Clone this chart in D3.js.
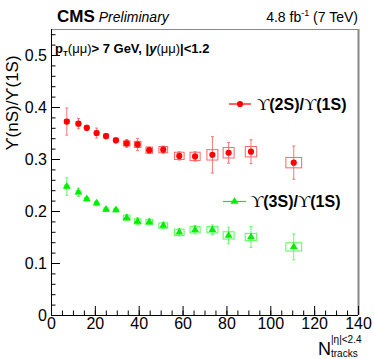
<!DOCTYPE html>
<html><head><meta charset="utf-8">
<script src="https://cdn.jsdelivr.net/npm/d3@7"></script>
<style>body{margin:0;background:#fff}svg{display:block;font-family:"Liberation Sans",Arial,sans-serif}</style>
</head><body><svg id="c" width="374" height="359"></svg>
<script>
const nTracks = [7.2,12.5,16.3,20.8,25.1,29.6,34.5,39.5,44.8,51.2,58.5,65.7,73.6,81.0,91.2,110.7];
const boxHalfW = [1,1,1,1,1,1,1.5,1.5,1.5,2,2.2,2.3,2.5,2.5,2.6,3.6];
const r21 = [0.372,0.368,0.360,0.350,0.344,0.336,0.330,0.328,0.317,0.318,0.306,0.305,0.308,0.312,0.314,0.293];
const r21Stat = [0.026,0.010,0.005,0.0095,0.005,0.005,0.0075,0.0115,0.006,0.007,0.008,0.009,0.035,0.020,0.023,0.032];
const r21Sys = [0.004,0.004,0.004,0.004,0.004,0.004,0.005,0.006,0.006,0.006,0.007,0.008,0.010,0.010,0.010,0.010];
const r31 = [0.247,0.236,0.223,0.215,0.203,0.202,0.187,0.180,0.179,0.172,0.159,0.164,0.164,0.153,0.150,0.131];
const r31Stat = [0.017,0.008,0.004,0.005,0.004,0.004,0.006,0.007,0.005,0.006,0.007,0.008,0.009,0.016,0.020,0.025];
const r31Sys = [0.003,0.003,0.003,0.003,0.003,0.003,0.005,0.005,0.005,0.005,0.006,0.006,0.006,0.007,0.007,0.008];
const xTicks = [0,20,40,60,80,100,120,140];
const yTicks = [0,0.1,0.2,0.3,0.4,0.5];

const svg = d3.select("#c");
const x = d3.scaleLinear().domain([0,140]).range([51,358]);
const y = d3.scaleLinear().domain([0,0.55]).range([315,29]);

// frame top/right
svg.append("line").attr("x1",51).attr("x2",359).attr("y1",29.5).attr("y2",29.5).attr("stroke","#888").attr("stroke-width",1);
svg.append("line").attr("x1",358.5).attr("x2",358.5).attr("y1",29).attr("y2",315).attr("stroke","#888").attr("stroke-width",2);

// axes
const xAxis = svg.append("g").attr("transform","translate(0,315)");
xAxis.call(d3.axisBottom(x).tickValues(d3.range(0,141,5)).tickSize(-4.5).tickFormat(""));
xAxis.call(g=>g.selectAll(".tick line").attr("stroke","#000"));
const xMaj = svg.append("g").attr("transform","translate(0,315)").call(d3.axisBottom(x).tickValues(xTicks).tickSize(-9).tickPadding(3).tickFormat(d3.format("d")));
xMaj.select(".domain").remove();
xMaj.selectAll("text").attr("font-size",16).attr("font-family","Liberation Sans, Arial, sans-serif").attr("fill","#000");
xAxis.select(".domain").attr("d","M51,0.5H358").attr("stroke","#000");

const yAxis = svg.append("g").attr("transform","translate(51,0)");
yAxis.call(d3.axisLeft(y).tickValues(d3.range(0,0.551,0.02)).tickSize(-4.5).tickFormat(""));
yAxis.select(".domain").attr("d","M0.5,315V29").attr("stroke","#000");
const yMaj = svg.append("g").attr("transform","translate(51,0)").call(d3.axisLeft(y).tickValues(yTicks).tickSize(-9).tickPadding(4).tickFormat(d=>d===0?"0":d3.format(".1f")(d)));
yMaj.select(".domain").remove();
yMaj.selectAll("text").attr("font-size",16).attr("font-family","Liberation Sans, Arial, sans-serif").attr("fill","#000");

function series(vals, stat, sys, color, light, shape){
  const g = svg.append("g");
  nTracks.forEach((n,i)=>{
    g.append("rect").attr("x",x(n-boxHalfW[i])).attr("width",x(n+boxHalfW[i])-x(n-boxHalfW[i]))
      .attr("y",y(vals[i]+sys[i])).attr("height",y(vals[i]-sys[i])-y(vals[i]+sys[i]))
      .attr("fill","none").attr("stroke",light).attr("stroke-width",1);
    g.append("line").attr("x1",x(n)).attr("x2",x(n)).attr("y1",y(vals[i]+stat[i])).attr("y2",y(vals[i]-stat[i])).attr("stroke",light).attr("stroke-width",0.9);
    [vals[i]+stat[i],vals[i]-stat[i]].forEach(v=>g.append("line").attr("x1",x(n)-1.5).attr("x2",x(n)+1.5).attr("y1",y(v)).attr("y2",y(v)).attr("stroke",light).attr("stroke-width",0.9));
    if(shape==="circle") g.append("circle").attr("cx",x(n)).attr("cy",y(vals[i])).attr("r",3.1).attr("fill",color);
    else g.append("path").attr("d",d3.symbol(d3.symbolTriangle,26)()).attr("transform",`translate(${x(n)},${y(vals[i])})`).attr("fill",color);
  });
}
series(r21,r21Stat,r21Sys,"#ff0000","#ff6666","circle");
series(r31,r31Stat,r31Sys,"#00ee00","#55ff55","tri");

// legend
function legend(x1,x2,yy,color,shape,tx,label){
  svg.append("line").attr("x1",x1).attr("x2",x2).attr("y1",yy).attr("y2",yy).attr("stroke",color).attr("stroke-width",1.2);
  const cx=(x1+x2)/2;
  if(shape==="circle") svg.append("circle").attr("cx",cx).attr("cy",yy).attr("r",3.1).attr("fill",color);
  else svg.append("path").attr("d",d3.symbol(d3.symbolTriangle,26)()).attr("transform",`translate(${cx},${yy})`).attr("fill",color);
  const t = svg.append("text").attr("x",tx).attr("y",yy+5.5).attr("font-size",16).attr("font-weight","bold").attr("fill","#000");
  t.append("tspan").attr("font-family","Liberation Serif, serif").attr("font-weight","normal").attr("font-size",17).text("ϒ");
  t.append("tspan").text("("+label+")/");
  t.append("tspan").attr("font-family","Liberation Serif, serif").attr("font-weight","normal").attr("font-size",17).text("ϒ");
  t.append("tspan").text("(1S)");
}
legend(229,251,104,"#ff0000","circle",257,"2S");
legend(223,246,201.5,"#00ee00","tri",251,"3S");

// header
const h = svg.append("text").attr("x",57).attr("y",22);
h.append("tspan").attr("font-size",17).attr("font-weight","bold").text("CMS");
h.append("tspan").attr("dx",4).attr("font-size",14).attr("font-style","italic").text("Preliminary");
const lum = svg.append("text").attr("x",358).attr("y",22).attr("text-anchor","end").attr("font-size",14);
lum.append("tspan").text("4.8 fb");
lum.append("tspan").attr("font-size",9).attr("dy",-6).text("-1");
lum.append("tspan").attr("dy",6).text(" (7 TeV)");

// cut label
const cut = svg.append("text").attr("x",55).attr("y",53).attr("font-size",13).attr("font-weight","bold");
cut.append("tspan").text("p");
cut.append("tspan").attr("font-size",8).attr("dy",3).text("T");
cut.append("tspan").attr("dy",-3).attr("font-weight","normal").text("(μμ)");
cut.append("tspan").text("> 7 GeV, |");
cut.append("tspan").attr("font-style","italic").text("y");
cut.append("tspan").attr("font-weight","normal").text("(μμ)");
cut.append("tspan").text("|<1.2");

// y title
svg.append("text").attr("transform","translate(18,103) rotate(-90)").attr("text-anchor","middle").attr("font-size",17).text("ϒ(nS)/ϒ(1S)");

// x title
const xt = svg.append("text").attr("x",318).attr("y",355).attr("font-size",18);
xt.append("tspan").text("N");
xt.append("tspan").attr("font-size",10).attr("dy",2).text("tracks");
const xs = svg.append("text").attr("x",331).attr("y",343).attr("font-size",10).text("|η|<2.4");
</script></body></html>
